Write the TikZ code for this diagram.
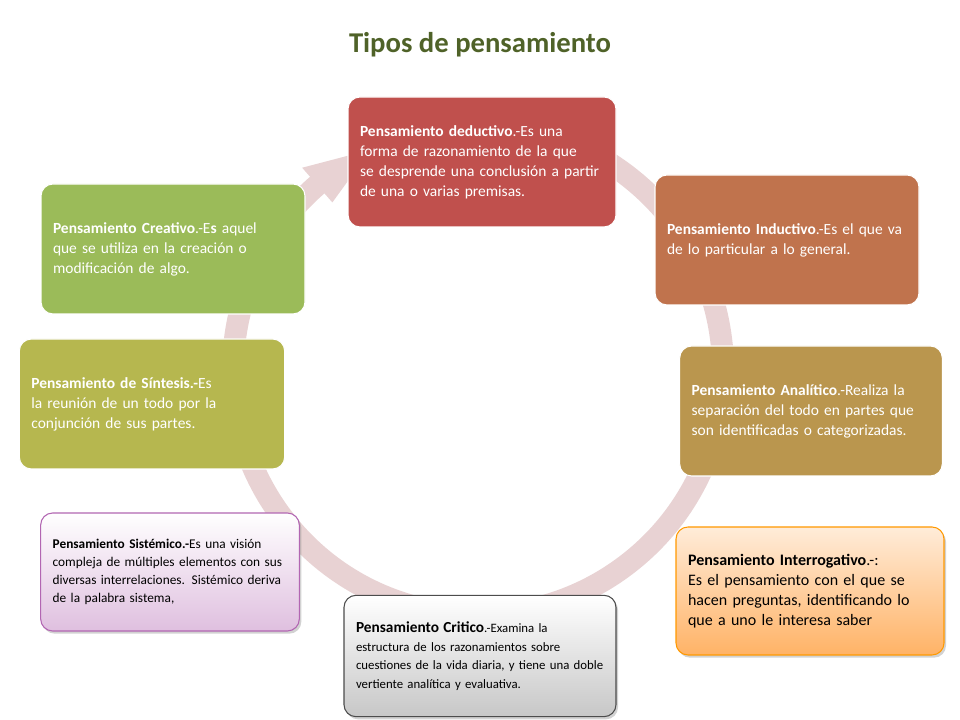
\documentclass[tikz,border=0pt]{standalone}
\usepackage{fontspec}
\setmainfont{Carlito}
\usetikzlibrary{shadows}
\hyphenpenalty=10000
\exhyphenpenalty=10000
\definecolor{ring}{HTML}{E8D2D3}
\definecolor{cded}{HTML}{C0504D}
\definecolor{cind}{HTML}{C0734D}
\definecolor{cana}{HTML}{BA964E}
\definecolor{csin}{HTML}{B6B74F}
\definecolor{ccre}{HTML}{9BBB59}
\definecolor{ttl}{HTML}{4F6228}
\tikzset{
 box/.style={rounded corners=9pt, inner xsep=9pt, inner ysep=5pt, align=left,
   font=\fontsize{11.6}{15}\selectfont, text=white, draw=white, line width=0.8pt},
 lbox/.style={box, text=black, drop shadow={opacity=0.35, shadow xshift=1.5pt, shadow yshift=-2pt}},
}
\begin{document}
\begin{tikzpicture}[x=0.75pt,y=0.75pt]
\useasboundingbox (0,0) rectangle (960,720);
\fill[white] (0,0) rectangle (960,720);
\node (title) at (480,675) {\fontsize{21.5}{26}\selectfont\bfseries\color{ttl}Tipos de pensamiento};
% ring
\coordinate (c) at (478,350);
\draw[ring, line width=16.5pt] ([shift={(127:245)}]c) arc (127:448:245);
\fill[ring] ([shift={(131:222)}]c) -- ([shift={(131:268)}]c) -- ([shift={(116:245)}]c) -- cycle;
% boxes
\node[box, fill=cded, minimum width=201pt, minimum height=97.5pt, text width=183pt] (ded) at (482,558)
 {\textbf{Pensamiento deductivo}.-Es una forma de razonamiento de la que se desprende una conclusión a partir de una o varias premisas.};
\node[box, fill=cind, minimum width=198pt, minimum height=97.5pt, text width=180pt] (ind) at (787,480)
 {\textbf{Pensamiento Inductivo}.-Es el que va de lo particular a lo general.};
\node[box, fill=cana, minimum width=197pt, minimum height=97.5pt, text width=179pt] (ana) at (811,309)
 {\textbf{Pensamiento Analítico}.-Realiza la separación del todo en partes que son identificadas o categorizadas.};
\node[lbox, draw=orange!80!yellow, top color=orange!15, bottom color=orange!60, minimum width=201pt, minimum height=96pt, text width=183pt, font=\fontsize{12}{15}\selectfont] (int) at (810,129)
 {\textbf{Pensamiento Interrogativo}.-:\\ Es el pensamiento con el que se hacen preguntas, identificando lo que a uno le interesa saber};
\node[lbox, draw=black!70, top color=white, bottom color=black!22, minimum width=201pt, minimum height=91pt, text width=186pt, font=\fontsize{9.6}{14}\selectfont] (cri) at (480,64)
 {{\fontsize{11.5}{14}\selectfont\textbf{Pensamiento Critico}}.-Examina la estructura de los razonamientos sobre cuestiones de la vida diaria, y tiene una doble vertiente analítica y evaluativa.};
\node[lbox, draw=violet!60, top color=white, bottom color=violet!25, minimum width=191pt, minimum height=88.5pt, text width=176pt, font=\fontsize{10}{13.5}\selectfont] (sis) at (170,148)
 {\textbf{Pensamiento Sistémico.-}Es una visión compleja de múltiples elementos con sus diversas interrelaciones. Sistémico deriva de la palabra sistema,};
\node[box, fill=csin, minimum width=199pt, minimum height=97.5pt, text width=181pt] (sin) at (152,316)
 {\textbf{Pensamiento de Síntesis.-}Es la reunión de un todo por la conjunción de sus partes.};
\node[box, fill=ccre, minimum width=198pt, minimum height=97.5pt, text width=180pt] (cre) at (173,471)
 {\textbf{Pensamiento Creativo}.-E\textbf{s} aquel que se utiliza en la creación o modificación de algo.};
\end{tikzpicture}
\end{document}
